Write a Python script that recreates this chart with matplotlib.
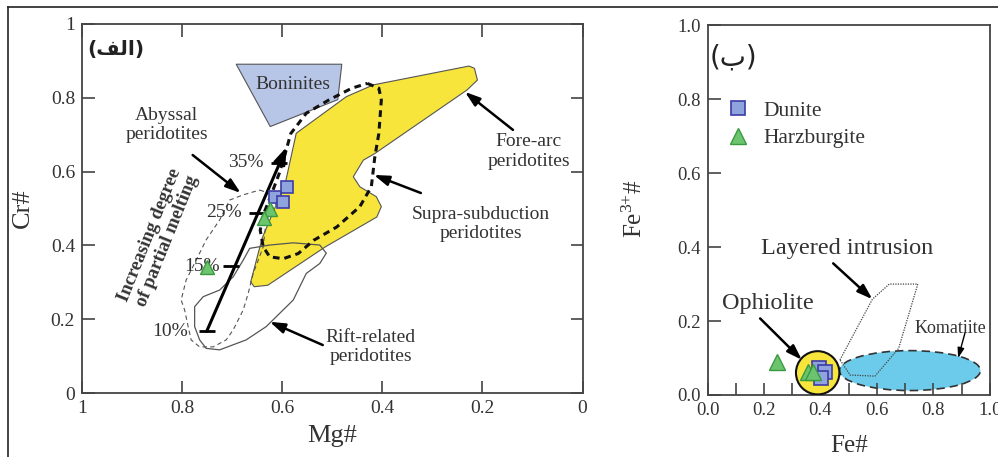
import numpy as np
import matplotlib.pyplot as plt
from matplotlib.patches import Polygon, Ellipse
from matplotlib.lines import Line2D

plt.rcParams['font.family'] = ['Liberation Serif', 'DejaVu Sans']
plt.rcParams['mathtext.fontset'] = 'custom'
plt.rcParams['mathtext.rm'] = 'Liberation Serif'
plt.rcParams['mathtext.it'] = 'Liberation Serif:italic'

TXT = '#333333'
AX = '#444444'

# ---- left panel data (Mg#, Cr#) ----
boninites_mg = [0.692, 0.481, 0.489, 0.624]
boninites_cr = [0.891, 0.891, 0.795, 0.722]

forearc_mg = [0.663, 0.640, 0.594, 0.572, 0.472, 0.418, 0.227, 0.216, 0.210, 0.231,
              0.415, 0.438, 0.458, 0.445, 0.412, 0.402, 0.411, 0.514, 0.629, 0.656]
forearc_cr = [0.301, 0.420, 0.568, 0.704, 0.803, 0.835, 0.886, 0.880, 0.848, 0.821,
              0.649, 0.631, 0.586, 0.559, 0.532, 0.505, 0.477, 0.396, 0.292, 0.288]

ssz_mg = [0.430, 0.407, 0.402, 0.407, 0.415, 0.422, 0.445, 0.491, 0.537, 0.568, 0.598,
          0.625, 0.638, 0.644, 0.637, 0.621, 0.606, 0.594, 0.583, 0.552, 0.507, 0.461]
ssz_cr = [0.839, 0.826, 0.794, 0.703, 0.640, 0.559, 0.505, 0.450, 0.414, 0.378, 0.364,
          0.369, 0.396, 0.441, 0.486, 0.541, 0.595, 0.649, 0.703, 0.758, 0.794, 0.826]

abyssal_mg = [0.645, 0.612, 0.608, 0.632, 0.638, 0.658, 0.668, 0.678, 0.698, 0.712, 0.738,
              0.765, 0.782, 0.788, 0.795, 0.802, 0.792, 0.772, 0.752, 0.725, 0.705, 0.678]
abyssal_cr = [0.550, 0.535, 0.523, 0.469, 0.396, 0.324, 0.270, 0.225, 0.171, 0.144, 0.125,
              0.125, 0.144, 0.180, 0.225, 0.252, 0.306, 0.360, 0.415, 0.469, 0.523, 0.537]

rift_mg = [0.665, 0.625, 0.578, 0.525, 0.512, 0.525, 0.552, 0.565, 0.578, 0.605, 0.632,
           0.672, 0.725, 0.752, 0.765, 0.775, 0.775, 0.758, 0.725, 0.698, 0.678]
rift_cr = [0.392, 0.401, 0.407, 0.401, 0.379, 0.351, 0.324, 0.288, 0.252, 0.216, 0.180,
           0.144, 0.117, 0.121, 0.144, 0.180, 0.234, 0.261, 0.279, 0.315, 0.360]

melt_labels = ['10%', '15%', '25%', '35%']
melt_mg = [0.751, 0.702, 0.650, 0.606]
melt_cr = [0.167, 0.344, 0.489, 0.624]
melt_label_mg = [0.788, 0.725, 0.681, 0.637]
melt_tip = (0.591, 0.667)

dunite_mg = [0.614, 0.591, 0.598]
dunite_cr = [0.532, 0.559, 0.518]
harz_mg = [0.625, 0.637, 0.751]
harz_cr = [0.500, 0.473, 0.342]

# ---- right panel data (Fe#, Fe3+#) ----
layered_fe = [0.469, 0.584, 0.644, 0.745, 0.677, 0.593, 0.505]
layered_fe3 = [0.095, 0.259, 0.300, 0.300, 0.126, 0.051, 0.054]
komatiite_center = (0.717, 0.066)
komatiite_size = (0.50, 0.108)
ophiolite_center = (0.390, 0.060)

dunite_fe = [0.396, 0.417, 0.402]
dunite_fe3 = [0.072, 0.063, 0.045]
harz_fe = [0.245, 0.357, 0.375]
harz_fe3 = [0.090, 0.063, 0.061]

fig = plt.figure(figsize=(9.98, 4.57), dpi=100)
ax1 = fig.add_axes([0.0822, 0.140, 0.5015, 0.8075])
ax2 = fig.add_axes([0.7091, 0.1357, 0.2826, 0.809])

# outer frame lines (top and left only)
fig.add_artist(Line2D([8 / 998, 1], [1 - 7 / 457, 1 - 7 / 457], transform=fig.transFigure, color='#222', lw=1.2))
fig.add_artist(Line2D([8 / 998, 8 / 998], [0, 1 - 7 / 457], transform=fig.transFigure, color='#222', lw=1.2))

arrow_kw = dict(arrowstyle='-|>,head_length=0.9,head_width=0.3', color='k', lw=1.8, shrinkA=0, shrinkB=0)

# ---------------- left panel ----------------
ax1.add_patch(Polygon(np.column_stack([forearc_mg, forearc_cr]), closed=True,
                      facecolor='#f7e53b', edgecolor='#555', lw=0.8, zorder=1))
ax1.add_patch(Polygon(np.column_stack([boninites_mg, boninites_cr]), closed=True,
                      facecolor='#b7c5e6', edgecolor='#555', lw=0.8, zorder=1))
ax1.add_patch(Polygon(np.column_stack([rift_mg, rift_cr]), closed=True,
                      fill=False, edgecolor='#555', lw=0.9, zorder=2))
ax1.add_patch(Polygon(np.column_stack([abyssal_mg, abyssal_cr]), closed=True,
                      fill=False, edgecolor='#555', lw=0.8, ls=(0, (4, 3)), zorder=2))
ax1.add_patch(Polygon(np.column_stack([ssz_mg, ssz_cr]), closed=True,
                      fill=False, edgecolor='#111', lw=2.2, ls=(0, (2.2, 1.6)), zorder=3))

# melting trend arrow
ax1.annotate('', xy=melt_tip, xytext=(melt_mg[0], melt_cr[0]),
             arrowprops=dict(arrowstyle='-|>,head_length=1.0,head_width=0.35', color='k',
                             lw=2.2, shrinkA=0, shrinkB=0), zorder=4)
ax1.plot(melt_mg, melt_cr, ls='none', marker='_', ms=12, mew=2, color='k', zorder=4)
for lab, m, c in zip(melt_labels, melt_label_mg, melt_cr):
    ax1.text(m, c, lab, ha='right', va='center', fontsize=14, color=TXT, zorder=5)

ax1.plot(dunite_mg, dunite_cr, ls='none', marker='s', ms=9, mfc='#8fa3dc', mec='#3c3ca8', mew=1.2, zorder=6)
ax1.plot(harz_mg, harz_cr, ls='none', marker='^', ms=10, mfc='#6cc46e', mec='#3a9a40', mew=1.0, zorder=6)

ax1.text(0.932, 0.930, '(\uFED2\uFEDF\uFE8D)', ha='center', va='center', fontsize=14.5,
         fontweight='bold', family=['DejaVu Sans'], color='#222')
ax1.text(0.579, 0.835, 'Boninites', ha='center', va='center', fontsize=14, color=TXT, zorder=5)
ax1.text(0.831, 0.726, 'Abyssal\nperidotites', ha='center', va='center', fontsize=14, color=TXT)
ax1.text(0.107, 0.654, 'Fore-arc\nperidotites', ha='center', va='center', fontsize=14, color=TXT)
ax1.text(0.203, 0.458, 'Supra-subduction\nperidotites', ha='center', va='center', fontsize=14, color=TXT)
ax1.text(0.423, 0.125, 'Rift-related\nperidotites', ha='center', va='center', fontsize=14, color=TXT)
ax1.text(0.847, 0.420, 'Increasing degree\nof partial melting', ha='center', va='center',
         fontsize=13.5, fontweight='bold', rotation=68, color=TXT, linespacing=1.1)

ax1.annotate('', xy=(0.683, 0.542), xytext=(0.779, 0.645), arrowprops=arrow_kw)
ax1.annotate('', xy=(0.235, 0.816), xytext=(0.139, 0.713), arrowprops=arrow_kw)
ax1.annotate('', xy=(0.417, 0.591), xytext=(0.323, 0.542), arrowprops=arrow_kw)
ax1.annotate('', xy=(0.625, 0.193), xytext=(0.519, 0.130), arrowprops=arrow_kw)

ax1.set_xlim(1, 0)
ax1.set_ylim(0, 1)
ax1.set_xticks([1, 0.8, 0.6, 0.4, 0.2, 0])
ax1.set_xticklabels(['1', '0.8', '0.6', '0.4', '0.2', '0'])
ax1.set_yticks([0, 0.2, 0.4, 0.6, 0.8, 1])
ax1.set_yticklabels(['0', '0.2', '0.4', '0.6', '0.8', '1'])
ax1.tick_params(direction='in', length=9, width=1.2, top=True, right=True,
                labelsize=14, pad=5, colors=AX, labelcolor=TXT)
ax1.set_xlabel('Mg#', fontsize=19, color=TXT)
ax1.set_ylabel('Cr#', fontsize=19, color=TXT)
ax1.xaxis.set_label_coords(0.5, -0.087)
ax1.yaxis.set_label_coords(-0.096, 0.5)

# ---------------- right panel ----------------
ax2.add_patch(Ellipse(komatiite_center, komatiite_size[0], komatiite_size[1],
                      facecolor='#6ccbeb', edgecolor='#333', lw=1.2, ls=(0, (5, 3)), zorder=1))
ax2.add_patch(Polygon(np.column_stack([layered_fe, layered_fe3]), closed=True,
                      fill=False, edgecolor='#444', lw=0.9, ls=(0, (1, 1)), zorder=2))
ax2.add_patch(Ellipse(ophiolite_center, 0.154, 0.117, facecolor='#f7e53b',
                      edgecolor='#111', lw=1.5, zorder=3))

ax2.plot(dunite_fe, dunite_fe3, ls='none', marker='s', ms=9.5, mfc='#8fa3dc', mec='#3c3ca8',
         mew=1.2, zorder=5, label='Dunite')
ax2.plot(harz_fe, harz_fe3, ls='none', marker='^', ms=11, mfc='#6cc46e', mec='#3a9a40',
         mew=1.0, zorder=6, label='Harzburgite')
leg = ax2.legend(loc='upper left', bbox_to_anchor=(0.03, 0.82), frameon=False, fontsize=15.5,
                 handletextpad=0.6, labelspacing=0.35, handlelength=1.2, borderaxespad=0)
for t in leg.get_texts():
    t.set_color(TXT)

ax2.text(0.09, 0.914, '(\u0628)', ha='center', va='center', fontsize=20, family=['DejaVu Sans'],
         color='#222')
ax2.text(0.496, 0.396, 'Layered intrusion', ha='center', va='center', fontsize=17.5, color=TXT)
ax2.text(0.215, 0.248, 'Ophiolite', ha='center', va='center', fontsize=17.5, color=TXT)
ax2.text(0.859, 0.181, 'Komatiite', ha='center', va='center', fontsize=13, color=TXT)

ax2.annotate('', xy=(0.584, 0.259), xytext=(0.445, 0.356), arrowprops=arrow_kw)
ax2.annotate('', xy=(0.334, 0.095), xytext=(0.186, 0.207), arrowprops=arrow_kw)
ax2.annotate('', xy=(0.888, 0.100), xytext=(0.912, 0.167),
             arrowprops=dict(arrowstyle='-|>,head_length=0.6,head_width=0.2', color='k',
                             lw=1.0, shrinkA=0, shrinkB=0))

ax2.set_xlim(0, 1)
ax2.set_ylim(0, 1)
ax2.set_xticks(np.arange(0, 1.01, 0.2))
ax2.set_xticks(np.arange(0.1, 1.0, 0.2), minor=True)
ax2.set_yticks(np.arange(0, 1.01, 0.2))
ax2.set_xticklabels(['0.0', '0.2', '0.4', '0.6', '0.8', '1.0'])
ax2.set_yticklabels(['0.0', '0.2', '0.4', '0.6', '0.8', '1.0'])
ax2.tick_params(which='both', direction='in', length=9, width=1.2, labelsize=13.5,
                pad=5, colors=AX, labelcolor=TXT)
ax2.set_xlabel('Fe#', fontsize=18, color=TXT)
ax2.set_ylabel(r'Fe$^{3{+}}$#', fontsize=18, color=TXT)
ax2.xaxis.set_label_coords(0.5, -0.108)
ax2.yaxis.set_label_coords(-0.215, 0.505)

for ax in (ax1, ax2):
    for s in ax.spines.values():
        s.set_color(AX)
        s.set_linewidth(1.3)

fig.savefig('out.png', dpi=100)
